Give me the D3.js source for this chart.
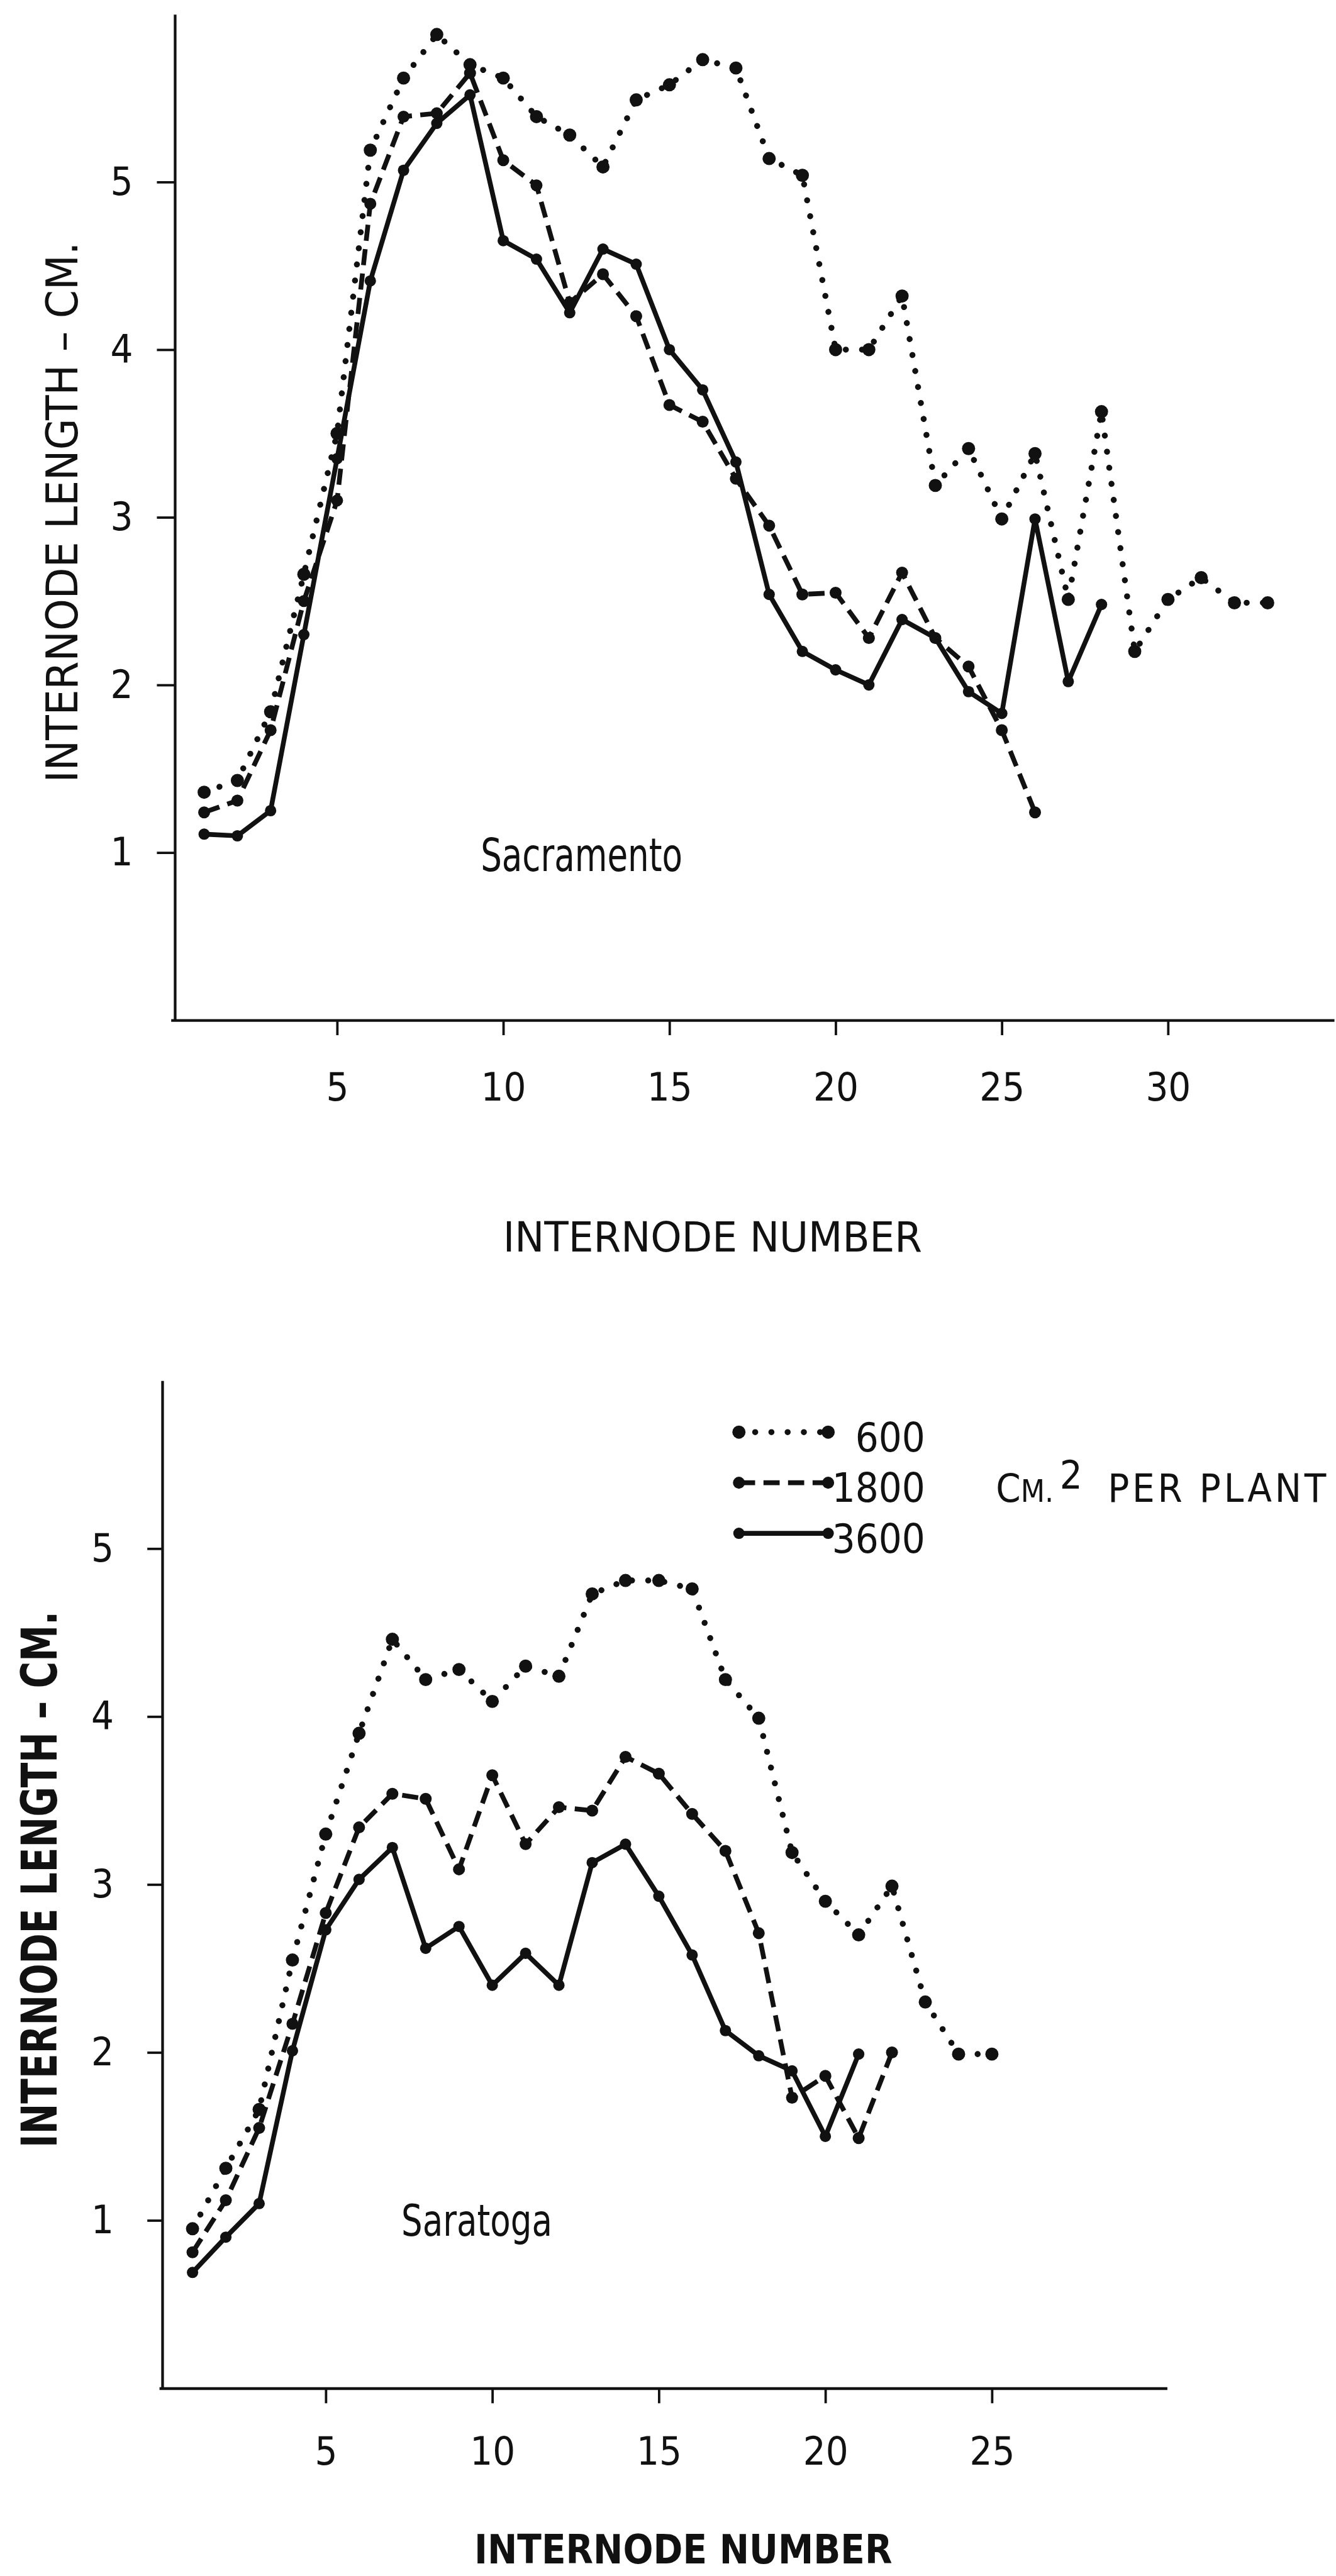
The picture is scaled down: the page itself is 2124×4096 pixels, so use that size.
<!DOCTYPE html>
<html>
<head>
<meta charset="utf-8">
<script src="https://cdn.jsdelivr.net/npm/d3@7"></script>
<style>
html, body { margin: 0; padding: 0; background: #fff; }
svg { display: block; }
</style>
</head>
<body>
<svg id="viz" width="2124" height="4096"></svg>
<script>
// values, one entry per internode (1, 2, 3 ...)
// Sacramento
const sac600  = [1.36,1.43,1.84,2.66,3.50,5.19,5.62,5.88,5.70,5.62,5.39,5.28,5.09,5.49,5.58,5.73,5.68,5.14,5.04,4.00,4.00,4.32,3.19,3.41,2.99,3.38,2.51,3.63,2.20,2.51,2.64,2.49,2.49];
const sac1800 = [1.24,1.31,1.73,2.50,3.10,4.87,5.39,5.41,5.65,5.13,4.98,4.28,4.45,4.20,3.67,3.57,3.23,2.95,2.54,2.55,2.28,2.67,2.28,2.11,1.73,1.24];
const sac3600 = [1.11,1.10,1.25,2.30,3.35,4.41,5.07,5.35,5.52,4.65,4.54,4.22,4.60,4.51,4.00,3.76,3.33,2.54,2.20,2.09,2.00,2.39,2.28,1.96,1.83,2.99,2.02,2.48];
// Saratoga
const sar600  = [0.95,1.31,1.66,2.55,3.30,3.90,4.46,4.22,4.28,4.09,4.30,4.24,4.73,4.81,4.81,4.76,4.22,3.99,3.19,2.90,2.70,2.99,2.30,1.99,1.99];
const sar1800 = [0.81,1.12,1.55,2.17,2.83,3.34,3.54,3.51,3.09,3.65,3.24,3.46,3.44,3.76,3.66,3.42,3.20,2.71,1.73,1.86,1.49,2.00];
const sar3600 = [0.69,0.90,1.10,2.01,2.73,3.03,3.22,2.62,2.75,2.40,2.59,2.40,3.13,3.24,2.93,2.58,2.13,1.98,1.89,1.50,1.99];

const sacXTicks = [5,10,15,20,25,30];
const sarXTicks = [5,10,15,20,25];
const yTicks = [1,2,3,4,5];
const legendLabels = ["600","1800","3600"];

const ink = "#111";
const font = '"DejaVu Sans Condensed", "DejaVu Sans", sans-serif';

// dotted, dashed, solid
const styles = [
    {width: 10,  dash: "0.1 27", cap: "round", r: 11},
    {width: 8,   dash: "27 14",  cap: "butt",  r: 10},
    {width: 8,   dash: null,     cap: "butt",  r: 9.5}
];

const svg = d3.select("#viz");
// everything below is laid out at the size of the original scan
const root = svg.append("g").attr("transform", "scale(0.952)");

const panels = [
    {
        name: "Sacramento", series: [sac600, sac1800, sac3600],
        xDomain: [0, 35], xRange: [285.4, 2228], yRange: [1704, 24],
        axisX: 292, xTicks: sacXTicks, xTickLen: 25, xPad: 62, yTickLen: 30, yPad: 40,
        label: [9.32, 0.89], labelSize: 76, labelLen: 337,
        yTitle: {x: 103, size: 72, len: 903, weight: "normal"},
        xTitle: {x: 1190, y: 2090, size: 70, len: 700, weight: "normal"}
    },
    {
        name: "Saratoga", series: [sar600, sar1800, sar3600],
        xDomain: [0, 30.26], xRange: [265.9, 1949], yRange: [3989, 2306],
        axisX: 271, xTicks: sarXTicks, xTickLen: 25, xPad: 56, yTickLen: 25, yPad: 56,
        label: [7.27, 0.91], labelSize: 72, labelLen: 252,
        yTitle: {x: 65, size: 82, len: 896, weight: "bold"},
        xTitle: {x: 1141, y: 4282, size: 68, len: 698, weight: "bold"}
    }
];

function styleAxis(a){
    a.attr("font-family", font).attr("font-size", 66);
    a.select(".domain").attr("stroke", ink).attr("stroke-width", 4.5);
    a.selectAll(".tick line").attr("stroke", ink).attr("stroke-width", 4);
    a.selectAll(".tick text").attr("fill", ink);
}

panels.forEach(p => {
    const g = root.append("g");
    const x = d3.scaleLinear().domain(p.xDomain).range(p.xRange);
    const y = d3.scaleLinear().domain([0, 6]).range(p.yRange);

    const gx = g.append("g")
        .attr("transform", `translate(0,${y(0)})`)
        .call(d3.axisBottom(x).tickValues(p.xTicks).tickSize(p.xTickLen)
            .tickSizeOuter(0).tickPadding(p.xPad).tickFormat(d3.format("d")));
    styleAxis(gx);

    const gy = g.append("g")
        .attr("transform", `translate(${p.axisX},0)`)
        .call(d3.axisLeft(y).tickValues(yTicks).tickSize(p.yTickLen)
            .tickSizeOuter(0).tickPadding(p.yPad).tickFormat(d3.format("d")));
    styleAxis(gy);

    const line = d3.line().x((d, i) => x(i + 1)).y(d => y(d));
    p.series.forEach((vals, k) => {
        const st = styles[k];
        g.append("path")
            .datum(vals)
            .attr("d", line)
            .attr("fill", "none")
            .attr("stroke", ink)
            .attr("stroke-width", st.width)
            .attr("stroke-dasharray", st.dash)
            .attr("stroke-linecap", st.cap)
            .attr("stroke-linejoin", "round");
        g.append("g").selectAll("circle")
            .data(vals)
            .join("circle")
            .attr("cx", (d, i) => x(i + 1))
            .attr("cy", d => y(d))
            .attr("r", st.r)
            .attr("fill", ink);
    });

    // site name inside the plot
    g.append("text")
        .attr("x", x(p.label[0]))
        .attr("y", y(p.label[1]))
        .attr("font-family", font)
        .attr("font-size", p.labelSize)
        .attr("textLength", p.labelLen)
        .attr("lengthAdjust", "spacingAndGlyphs")
        .attr("fill", ink)
        .text(p.name);

    // axis titles
    g.append("text")
        .attr("transform", `translate(${p.yTitle.x},${y(3.03)}) rotate(-90)`)
        .attr("text-anchor", "middle")
        .attr("dy", "0.36em")
        .attr("font-family", font)
        .attr("font-size", p.yTitle.size)
        .attr("font-weight", p.yTitle.weight)
        .attr("textLength", p.yTitle.len)
        .attr("lengthAdjust", "spacingAndGlyphs")
        .attr("fill", ink)
        .text("INTERNODE LENGTH \u2013 CM.");

    g.append("text")
        .attr("x", p.xTitle.x)
        .attr("y", p.xTitle.y)
        .attr("text-anchor", "middle")
        .attr("font-family", font)
        .attr("font-size", p.xTitle.size)
        .attr("font-weight", p.xTitle.weight)
        .attr("textLength", p.xTitle.len)
        .attr("lengthAdjust", "spacingAndGlyphs")
        .attr("fill", ink)
        .text("INTERNODE NUMBER");
});

// legend (drawn in the Saratoga panel)
const legend = root.append("g").attr("transform", "translate(1234,2392)");
const rowStep = 84.5, lineLen = 149;
legendLabels.forEach((lab, k) => {
    const st = styles[k];
    const row = legend.append("g").attr("transform", `translate(0,${k * rowStep})`);
    row.append("line")
        .attr("x1", 0).attr("x2", lineLen)
        .attr("stroke", ink)
        .attr("stroke-width", st.width)
        .attr("stroke-dasharray", st.dash)
        .attr("stroke-linecap", st.cap);
    row.selectAll("circle")
        .data([0, lineLen])
        .join("circle")
        .attr("cx", d => d)
        .attr("r", st.r)
        .attr("fill", ink);
    row.append("text")
        .attr("x", 311)
        .attr("y", 32)
        .attr("text-anchor", "end")
        .attr("font-family", font)
        .attr("font-size", 68)
        .attr("fill", ink)
        .text(lab);
});

const unit = root.append("text")
    .attr("x", 1663)
    .attr("y", 2508)
    .attr("font-family", font)
    .attr("font-size", 66)
    .attr("fill", ink);
unit.append("tspan").text("C");
unit.append("tspan").attr("font-size", 52).text("M.");
unit.append("tspan").attr("dy", -22).attr("dx", 10).attr("font-size", 66).text("2");
unit.append("tspan").attr("x", 1850).attr("y", 2508).attr("letter-spacing", 5).text("PER");
unit.append("tspan").attr("x", 2003).attr("letter-spacing", 5).text("PLANT");
</script>
</body>
</html>
